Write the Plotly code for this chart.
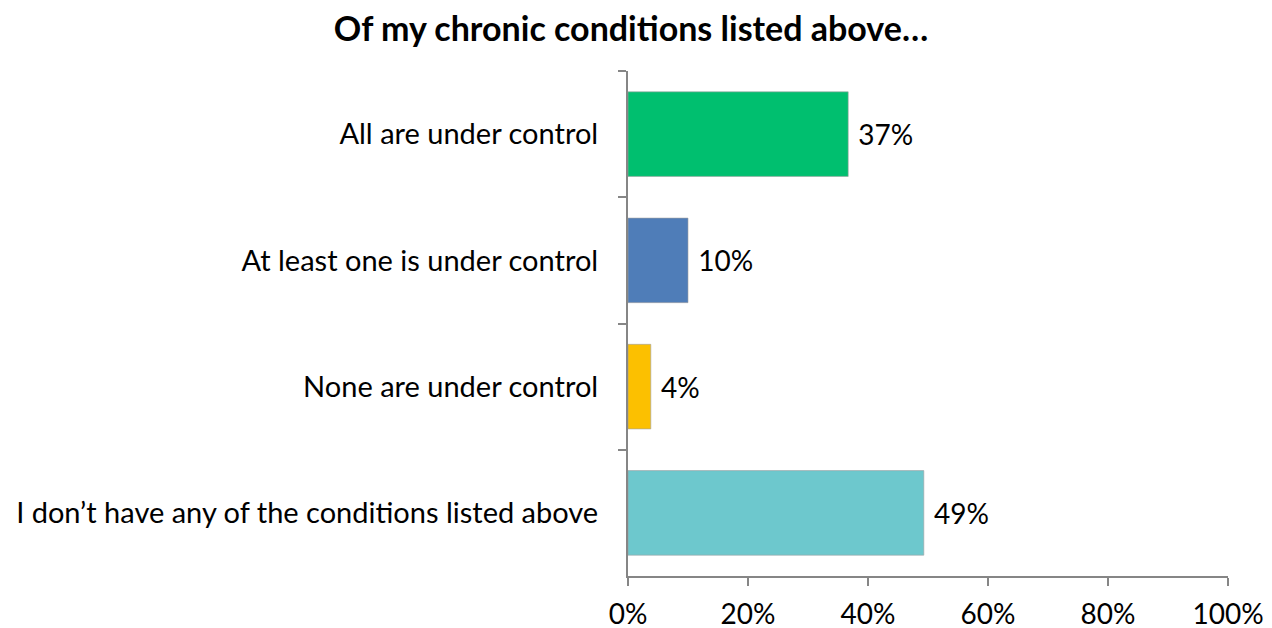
import plotly.graph_objects as go

categories = [
    "All are under control",
    "At least one is under control",
    "None are under control",
    "I don\u2019t have any of the conditions listed above",
]
values = [0.367, 0.100, 0.038, 0.493]
colors = ["#00BF6F", "#4F7DB8", "#FCC000", "#6DC8CD"]
x_ticks = [0, 0.2, 0.4, 0.6, 0.8, 1.0]
x_tick_labels = ["0%", "20%", "40%", "60%", "80%", "100%"]
title = "Of my chronic conditions listed above\u2026"

font_family = "Lato, Open Sans, Noto Sans, sans-serif"
FS = 29

fig = go.Figure(
    go.Bar(
        x=values,
        y=categories,
        orientation="h",
        marker=dict(color=colors, line=dict(color="rgba(160,160,160,0.6)", width=1)),
        width=0.67,
        texttemplate=" %{x:.0%}",
        textposition="outside",
        textfont=dict(size=FS - 1, color="#000000", family=font_family),
        cliponaxis=False,
        hoverinfo="skip",
    )
)

# the page body adds an 8px offset; margins compensate for it
fig.update_layout(
    width=1272,
    height=628,
    margin=dict(l=620, r=52, t=63, b=60),
    paper_bgcolor="white",
    plot_bgcolor="white",
    showlegend=False,
    font=dict(family=font_family, color="#000000", size=FS),
    title=dict(
        text="<b>" + title + "</b>",
        x=(631 - 8) / 1272,
        xanchor="center",
        y=1 - (29 - 8) / 628,
        yanchor="middle",
        font=dict(size=34, color="#000000", family=font_family),
    ),
)

fig.update_xaxes(
    range=[0, 1],
    tickvals=x_ticks,
    ticktext=x_tick_labels,
    showgrid=False,
    zeroline=False,
    showline=True,
    linecolor="#868686",
    linewidth=2,
    ticks="outside",
    ticklen=8,
    tickwidth=2,
    tickcolor="#868686",
    tickfont=dict(size=FS - 1),
    ticklabelstandoff=4,
    automargin=False,
)

fig.update_yaxes(
    categoryorder="array",
    categoryarray=categories,
    autorange="reversed",
    showgrid=False,
    zeroline=False,
    showline=True,
    linecolor="#868686",
    linewidth=2,
    ticks="outside",
    tickson="boundaries",
    ticklen=8,
    tickwidth=2,
    tickcolor="#868686",
    tickfont=dict(size=FS),
    ticklabelstandoff=22,
    automargin=False,
)

fig.write_html("out.html")
